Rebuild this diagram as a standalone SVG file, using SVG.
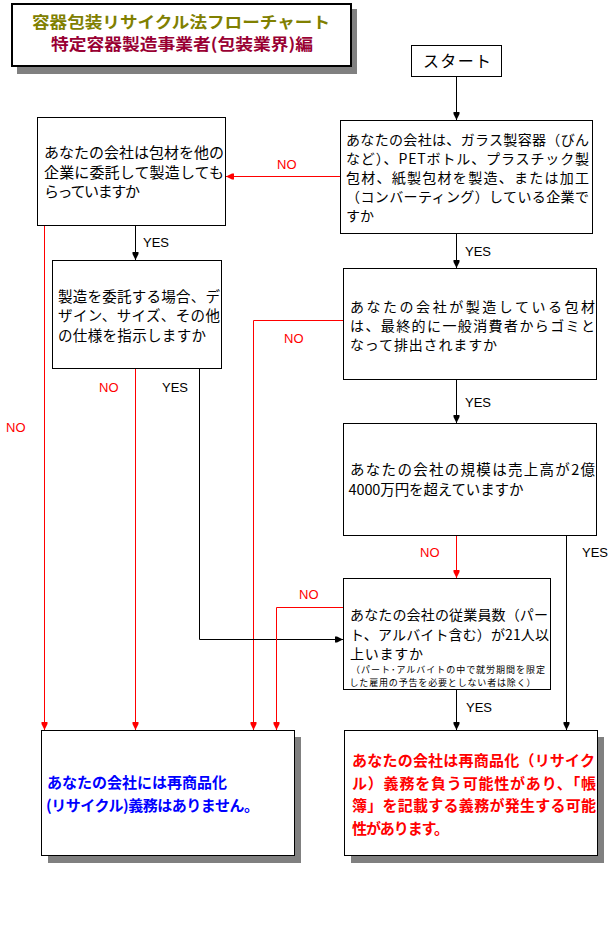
<svg xmlns="http://www.w3.org/2000/svg" width="616" height="934" viewBox="0 0 616 934">
<style>
.box{fill:#fff;stroke:#000;stroke-width:1}
.shadow{fill:#808080}
.jp{font-family:"Noto Sans CJK JP","Noto Sans CJK SC",sans-serif;fill:#000}
.lbl{font-family:"Liberation Sans",Arial,sans-serif;font-size:13px}
.no{fill:#ff0000}
.yes{fill:#000}
.lk{fill:none;stroke:#000;stroke-width:1}
.lr{fill:none;stroke:#ff0000;stroke-width:1}
</style>
<defs>
<marker id="ak" viewBox="-9 -5 10 10" refX="0" refY="0" markerWidth="10" markerHeight="10" markerUnits="userSpaceOnUse" orient="auto"><path d="M-8,-3 H-6 L0,0 L-6,3 H-8 Z" fill="#000"/></marker>
<marker id="ar" viewBox="-9 -5 10 10" refX="0" refY="0" markerWidth="10" markerHeight="10" markerUnits="userSpaceOnUse" orient="auto"><path d="M-8,-3 H-6 L0,0 L-6,3 H-8 Z" fill="#ff0000"/></marker>
</defs>
<rect width="616" height="934" fill="#fff"/>

<g id="title">
<rect class="shadow" x="17" y="9" width="340" height="65"/>
<rect x="12" y="4" width="339" height="62" fill="#fff" stroke="#000" stroke-width="2"/>
<text class="jp" x="32" y="27.5" font-size="16" textLength="298" lengthAdjust="spacingAndGlyphs" style="fill:#808000" font-weight="bold">容器包装リサイクル法フローチャート</text>
<text class="jp" x="51" y="49.5" font-size="16" textLength="262" lengthAdjust="spacingAndGlyphs" style="fill:#990033" font-weight="bold">特定容器製造事業者(包装業界)編</text>
</g>

<g id="start">
<rect class="box" x="411.5" y="45.5" width="90" height="31"/>
<text class="jp" x="423" y="66.5" font-size="16" textLength="68">スタート</text>
</g>

<g id="q1">
<rect class="box" x="340.5" y="120.5" width="252" height="113"/>
<text class="jp" font-size="14">
<tspan x="346" y="145" textLength="243">あなたの会社は、ガラス製容器（びん</tspan>
<tspan x="346" y="164" textLength="243">など）、PETボトル、プラスチック製</tspan>
<tspan x="346" y="183" textLength="243">包材、紙製包材を製造、または加工</tspan>
<tspan x="346" y="202" textLength="243">（コンバーティング）している企業で</tspan>
<tspan x="346" y="220.5">すか</tspan>
</text>
</g>

<g id="q2">
<rect class="box" x="37.5" y="117.5" width="188" height="108"/>
<text class="jp" font-size="15">
<tspan x="44" y="158" textLength="180">あなたの会社は包材を他の</tspan>
<tspan x="44" y="177.5" textLength="180">企業に委託して製造しても</tspan>
<tspan x="44" y="196.5" textLength="96">らっていますか</tspan>
</text>
</g>

<g id="q3">
<rect class="box" x="52.5" y="260.5" width="169" height="108"/>
<text class="jp" font-size="14.5">
<tspan x="58" y="301.5" textLength="162">製造を委託する場合、デ</tspan>
<tspan x="58" y="321" textLength="162">ザイン、サイズ、その他</tspan>
<tspan x="58" y="340.5" textLength="148">の仕様を指示しますか</tspan>
</text>
</g>

<g id="q4">
<rect class="box" x="343.5" y="268.5" width="253" height="111"/>
<text class="jp" font-size="14">
<tspan x="350" y="311.5" textLength="245">あなたの会社が製造している包材</tspan>
<tspan x="350" y="330.5" textLength="245">は、最終的に一般消費者からゴミと</tspan>
<tspan x="350" y="349.5" textLength="147">なって排出されますか</tspan>
</text>
</g>

<g id="q5">
<rect class="box" x="343.5" y="423.5" width="253" height="112"/>
<text class="jp" font-size="14.5">
<tspan x="350" y="474.5" textLength="245">あなたの会社の規模は売上高が2億</tspan>
<tspan x="348.5" y="495" textLength="175">4000万円を超えていますか</tspan>
</text>
</g>

<g id="q6">
<rect class="box" x="343.5" y="578.5" width="207" height="111"/>
<text class="jp" font-size="14">
<tspan x="350" y="620" textLength="198">あなたの会社の従業員数（パー</tspan>
<tspan x="350" y="640" textLength="199">ト、アルバイト含む）が21人以</tspan>
<tspan x="350" y="659" textLength="73">上いますか</tspan>
</text>
<text class="jp" font-size="9">
<tspan x="351" y="673" textLength="194">（パート･アルバイトの中で就労期間を限定</tspan>
<tspan x="349.5" y="685.5" textLength="186">した雇用の予告を必要としない者は除く）</tspan>
</text>
</g>

<g id="result-no">
<rect class="shadow" x="48" y="737" width="253" height="126"/>
<rect class="box" x="41.5" y="730.5" width="253" height="125"/>
<text class="jp" font-size="15" font-weight="bold" style="fill:#0000ff">
<tspan x="47" y="787.5" textLength="180">あなたの会社には再商品化</tspan>
<tspan x="46" y="811" textLength="213">(リサイクル)義務はありません。</tspan>
</text>
</g>

<g id="result-yes">
<rect class="shadow" x="351" y="737" width="253" height="126"/>
<rect class="box" x="344.5" y="730.5" width="253" height="125"/>
<text class="jp" font-size="15" font-weight="bold" style="fill:#ff0000">
<tspan x="352" y="766" textLength="243">あなたの会社は再商品化（リサイク</tspan>
<tspan x="352" y="788.5" textLength="244">ル）義務を負う可能性があり、「帳</tspan>
<tspan x="352" y="811" textLength="244">簿」を記載する義務が発生する可能</tspan>
<tspan x="352" y="833.5" textLength="97">性があります。</tspan>
</text>
</g>

<g id="connectors">
<path class="lk" d="M456.5,77 V120" marker-end="url(#ak)"/>
<path class="lr" d="M340,176.5 H226" marker-end="url(#ar)"/>
<path class="lk" d="M135.5,226 V260" marker-end="url(#ak)"/>
<path class="lr" d="M44.5,226 V730" marker-end="url(#ar)"/>
<path class="lk" d="M456.5,234 V268" marker-end="url(#ak)"/>
<path class="lr" d="M343,320.5 H253.5 V730" marker-end="url(#ar)"/>
<path class="lk" d="M456.5,380 V423" marker-end="url(#ak)"/>
<path class="lr" d="M135.5,369 V730" marker-end="url(#ar)"/>
<path class="lk" d="M199.5,369 V639.5 H343" marker-end="url(#ak)"/>
<path class="lr" d="M456.5,536 V578" marker-end="url(#ar)"/>
<path class="lk" d="M566.5,536 V730" marker-end="url(#ak)"/>
<path class="lr" d="M343,607.5 H276.5 V730" marker-end="url(#ar)"/>
<path class="lk" d="M456.5,690 V730" marker-end="url(#ak)"/>
<text class="lbl no" x="277" y="169">NO</text>
<text class="lbl yes" x="143" y="247">YES</text>
<text class="lbl no" x="6" y="432">NO</text>
<text class="lbl yes" x="465" y="256">YES</text>
<text class="lbl no" x="99" y="392">NO</text>
<text class="lbl yes" x="162" y="392">YES</text>
<text class="lbl no" x="284" y="343">NO</text>
<text class="lbl yes" x="465" y="407">YES</text>
<text class="lbl no" x="420" y="557">NO</text>
<text class="lbl yes" x="582" y="557">YES</text>
<text class="lbl no" x="299" y="599">NO</text>
<text class="lbl yes" x="466" y="712">YES</text>
</g>
</svg>
